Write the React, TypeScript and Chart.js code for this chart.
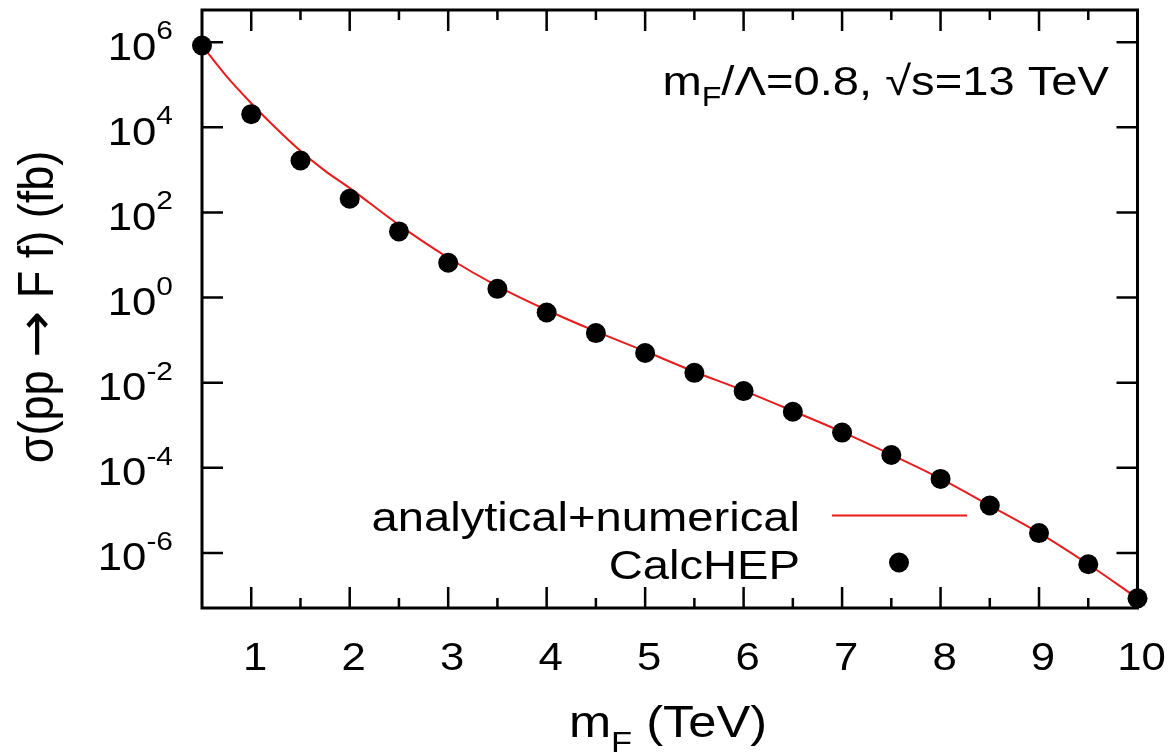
import React, { useEffect, useRef } from 'react';
import { Chart, registerables } from 'chart.js';

Chart.register(...registerables);

// CalcHEP points: m_F (TeV) and sigma (fb)
const massTeV = [0.5, 1, 1.5, 2, 2.5, 3, 3.5, 4, 4.5, 5, 5.5, 6, 6.5, 7, 7.5, 8, 8.5, 9, 9.5, 10];
const calchepXsec = [
  8.34e5, 2.03e4, 1.66e3, 209, 35.8, 6.58, 1.6, 0.446, 0.146, 0.0499,
  0.017, 0.00635, 0.00208, 6.73e-4, 2.0e-4, 5.48e-5, 1.3e-5, 2.93e-6, 5.43e-7, 8.59e-8,
];

// analytical+numerical curve
const curveMass = [0.5, 0.75, 1, 1.25, 1.5, 1.75, 2, 2.5, 3, 3.5, 4, 4.5, 5, 5.5, 6, 6.5, 7, 7.5, 8, 8.5, 9, 9.5, 10];
const curveXsec = [
  8.34e5, 1.57e5, 3.67e4, 9.57e3, 2.77e3, 946, 373, 50.9, 8.61, 1.86, 0.51, 0.16,
  0.0547, 0.0181, 0.00652, 0.00216, 6.98e-4, 2.03e-4, 5.57e-5, 1.3e-5, 2.96e-6, 5.43e-7, 8.59e-8,
];

const xMajorTicks = [1, 2, 3, 4, 5, 6, 7, 8, 9, 10];
const xMinorTicks = [1.5, 2.5, 3.5, 4.5, 5.5, 6.5, 7.5, 8.5, 9.5];
const yTickExponents = [6, 4, 2, 0, -2, -4, -6];
const legendLabels = ['analytical+numerical', 'CalcHEP'];
const xTitle = { main: 'm', sub: 'F', rest: ' (TeV)' };
const yTitle = { before: 'σ(pp ', arrow: '→', after: ' F f) (fb)' };
const annotation = { main: 'm', sub: 'F', rest: '/Λ=0.8, √s=13 TeV' };

const FONT = '"Liberation Sans", Arial, Helvetica, sans-serif';
const SX = 1.15;
const RED = 'rgb(232,28,28)';

type Seg = { text: string; size: number; dy?: number; family?: string; sx?: number };

function segWidth(ctx: CanvasRenderingContext2D, s: Seg) {
  ctx.font = `${s.size}px ${s.family || FONT}`;
  return ctx.measureText(s.text).width * (s.sx || SX);
}

function drawRich(
  ctx: CanvasRenderingContext2D,
  segs: Seg[],
  x: number,
  y: number,
  align: 'left' | 'right' | 'center',
  sy = 1,
) {
  const total = segs.reduce((a, s) => a + segWidth(ctx, s), 0);
  let cx = align === 'right' ? x - total : align === 'center' ? x - total / 2 : x;
  for (const s of segs) {
    const w = segWidth(ctx, s);
    ctx.save();
    ctx.font = `${s.size}px ${s.family || FONT}`;
    ctx.translate(cx, y + (s.dy || 0));
    ctx.scale(s.sx || SX, sy);
    ctx.textAlign = 'left';
    ctx.textBaseline = 'alphabetic';
    ctx.fillStyle = '#000';
    ctx.fillText(s.text, 0, 0);
    ctx.restore();
    cx += w;
  }
}

const framePlugin = {
  id: 'gnuplotFrame',
  beforeDatasetsDraw(chart: any) {
    const { ctx, chartArea } = chart;
    const { left, right, top, bottom } = chartArea;
    const xs = chart.scales.x;
    const ys = chart.scales.y;
    ctx.save();
    ctx.strokeStyle = '#000';
    ctx.lineWidth = 2.5;
    ctx.lineCap = 'butt';
    ctx.beginPath();
    for (const v of xMajorTicks) {
      const px = xs.getPixelForValue(v);
      ctx.moveTo(px, bottom); ctx.lineTo(px, bottom - 21);
      ctx.moveTo(px, top); ctx.lineTo(px, top + 21);
    }
    for (const v of xMinorTicks) {
      const px = xs.getPixelForValue(v);
      ctx.moveTo(px, bottom); ctx.lineTo(px, bottom - 10);
      ctx.moveTo(px, top); ctx.lineTo(px, top + 10);
    }
    for (const e of yTickExponents) {
      const py = ys.getPixelForValue(Math.pow(10, e));
      ctx.moveTo(left, py); ctx.lineTo(left + 21, py);
      ctx.moveTo(right, py); ctx.lineTo(right - 21, py);
    }
    ctx.stroke();
    ctx.lineWidth = 3;
    ctx.strokeRect(left, top, right - left, bottom - top);

    // tick labels
    for (const v of xMajorTicks) {
      const px = xs.getPixelForValue(v);
      drawRich(ctx, [{ text: String(v), size: 38 }], px + 4, 670, 'center');
    }
    for (const e of yTickExponents) {
      const py = ys.getPixelForValue(Math.pow(10, e));
      drawRich(ctx, [
        { text: '10', size: 38 },
        { text: String(e), size: 26, dy: -20.5 },
      ], 173, py + 17.5, 'right');
    }

    // x axis title
    drawRich(ctx, [
      { text: xTitle.main, size: 44 },
      { text: xTitle.sub, size: 30, dy: 15 },
      { text: xTitle.rest, size: 44 },
    ], 668, 737, 'center');

    // y axis title (rotated)
    ctx.save();
    ctx.translate(53, 307);
    ctx.rotate(-Math.PI / 2);
    drawRich(ctx, [
      { text: yTitle.before, size: 45, sx: 1 },
      { text: yTitle.arrow, size: 45, family: '"DejaVu Sans", sans-serif', sx: 1.25 },
      { text: yTitle.after, size: 45, sx: 1 },
    ], 0, 0, 'center', 1.12);
    ctx.restore();

    // annotation
    drawRich(ctx, [
      { text: annotation.main, size: 41 },
      { text: annotation.sub, size: 28, dy: 11 },
      { text: annotation.rest, size: 41 },
    ], 1109, 95, 'right');

    // legend
    drawRich(ctx, [{ text: legendLabels[0], size: 41 }], 800, 531, 'right');
    drawRich(ctx, [{ text: legendLabels[1], size: 41 }], 800, 579, 'right');
    ctx.strokeStyle = RED;
    ctx.lineWidth = 2;
    ctx.beginPath();
    ctx.moveTo(832, 515.5);
    ctx.lineTo(967, 515.5);
    ctx.stroke();
    ctx.fillStyle = '#000';
    ctx.beginPath();
    ctx.arc(899, 562.5, 10, 0, Math.PI * 2);
    ctx.fill();
    ctx.restore();
  },
};

export default function App() {
  const ref = useRef<HTMLCanvasElement>(null);
  useEffect(() => {
    if (!ref.current) return;
    const chart = new Chart(ref.current, {
      type: 'scatter',
      data: {
        datasets: [
          {
            label: legendLabels[1],
            data: massTeV.map((x, i) => ({ x, y: calchepXsec[i] })),
            showLine: false,
            pointRadius: 10,
            pointHoverRadius: 10,
            pointBackgroundColor: '#000',
            pointBorderWidth: 0,
            borderColor: '#000',
            clip: false,
          },
          {
            label: legendLabels[0],
            data: curveMass.map((x, i) => ({ x, y: curveXsec[i] })),
            showLine: true,
            pointRadius: 0,
            borderColor: RED,
            borderWidth: 2,
            cubicInterpolationMode: 'monotone',
            fill: false,
          },
        ],
      } as any,
      options: {
        responsive: false,
        animation: false,
        devicePixelRatio: 1,
        layout: { padding: { left: 202, right: 31.5, top: 7, bottom: 147 } },
        plugins: { legend: { display: false }, tooltip: { enabled: false } },
        events: [],
        scales: {
          x: { type: 'linear', min: 0.5, max: 10, display: false },
          y: { type: 'logarithmic', min: 5.09e-8, max: 5.69e6, display: false, bounds: 'data' } as any,
        },
      },
      plugins: [framePlugin],
    });
    return () => chart.destroy();
  }, []);
  return (
    <div style={{ position: 'absolute', left: 0, top: 0, width: 1169, height: 755, background: '#fff' }}>
      <canvas ref={ref} width={1169} height={755} style={{ display: 'block' }} />
    </div>
  );
}
